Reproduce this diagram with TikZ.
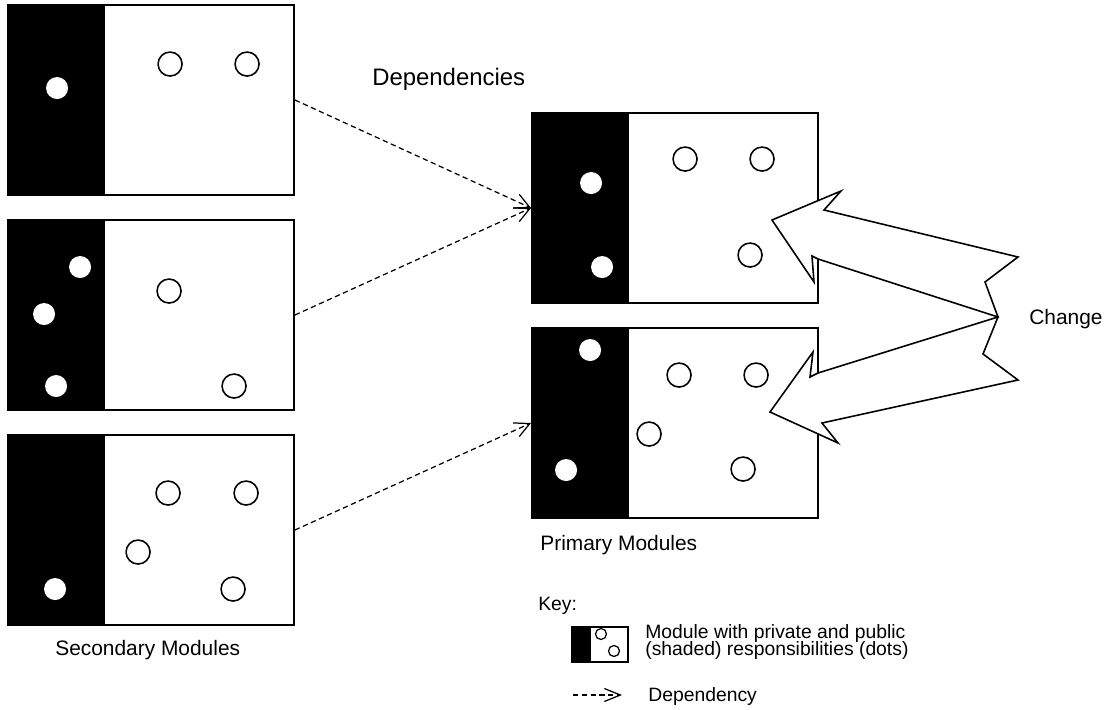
\documentclass[tikz,border=0pt]{standalone}
\usepackage{fontspec}
\setmainfont{Liberation Sans}
\usepackage{tikz}
\usetikzlibrary{arrows.meta}

\begin{document}
\begin{tikzpicture}[
        x=0.02cm, y=-0.02cm,
        module/.style={draw, line width=1.1pt, rectangle, minimum width=5.72cm, minimum height=3.8cm, inner sep=0pt,
            path picture={\fill (path picture bounding box.north west) rectangle ([xshift=1.93cm]path picture bounding box.south west);}},
        privdot/.style={fill=white},
        pubdot/.style={draw, line width=0.9pt},
        dep/.style={line width=0.7pt, dash pattern=on 3pt off 2pt, -{Straight Barb[length=0.3cm,width=0.3cm]}},
        change/.style={draw, fill=white, line width=0.9pt, line join=miter},
        lab/.style={font=\fontsize{11.9}{14}\selectfont, inner sep=0pt, anchor=base west},
        keylab/.style={font=\fontsize{11}{13}\selectfont, inner sep=0pt, anchor=base west}
    ]
        \useasboundingbox (0,0) rectangle (1107,710);

        % Secondary modules (left column)
        \node[module] (sec1) at (151,100) {};
        \node[module] (sec2) at (151,315) {};
        \node[module] (sec3) at (151,530) {};

        % Primary modules
        \node[module] (priA) at (675,208) {};
        \node[module] (priB) at (675,423) {};

        % --- dots of sec1 ---
        \begin{scope}[shift={(sec1.north west)}]
            \fill[privdot] (50,84) circle[radius=11];
            \draw[pubdot] (163,60) circle[radius=12];
            \draw[pubdot] (240,60) circle[radius=12];
        \end{scope}

        % --- dots of sec2 ---
        \begin{scope}[shift={(sec2.north west)}]
            \fill[privdot] (73,48) circle[radius=11];
            \fill[privdot] (37,95) circle[radius=11];
            \fill[privdot] (49,167) circle[radius=11];
            \draw[pubdot] (162,72) circle[radius=12];
            \draw[pubdot] (227,167) circle[radius=12];
        \end{scope}

        % --- dots of sec3 ---
        \begin{scope}[shift={(sec3.north west)}]
            \fill[privdot] (48,155) circle[radius=11];
            \draw[pubdot] (161,59) circle[radius=12];
            \draw[pubdot] (239,59) circle[radius=12];
            \draw[pubdot] (131,118) circle[radius=12];
            \draw[pubdot] (226,155) circle[radius=12];
        \end{scope}

        % --- dots of priA ---
        \begin{scope}[shift={(priA.north west)}]
            \fill[privdot] (60,71) circle[radius=11];
            \fill[privdot] (71,155) circle[radius=11];
            \draw[pubdot] (154,47) circle[radius=12];
            \draw[pubdot] (231,47) circle[radius=12];
            \draw[pubdot] (219,143) circle[radius=12];
        \end{scope}

        % --- dots of priB ---
        \begin{scope}[shift={(priB.north west)}]
            \fill[privdot] (59,23) circle[radius=11];
            \fill[privdot] (35,143) circle[radius=11];
            \draw[pubdot] (148,48) circle[radius=12];
            \draw[pubdot] (225,48) circle[radius=12];
            \draw[pubdot] (118,107) circle[radius=12];
            \draw[pubdot] (212,142) circle[radius=12];
        \end{scope}

        % Dependencies
        \draw[dep] (sec1.east) -- (priA.west);
        \draw[dep] (sec2.east) -- (priA.west);
        \draw[dep] (sec3.east) -- (priB.west);

        % Change arrows
        \draw[change] (772,220) -- (841,191) -- (824,210) -- (1018,257) -- (985,282) -- (998,317)
            -- (818,259) -- (812,256) -- (814,282) -- cycle;
        \draw[change] (998,317) -- (818,373) -- (810,377) -- (813,352) -- (770,412) -- (838,443)
            -- (822,423) -- (1018,380) -- (983,354) -- cycle;

        % Labels
        \node[lab, font=\fontsize{13.6}{16}\selectfont] (deplab) at (372,85) {Dependencies};
        \node[lab] (chglab) at (1029,324) {Change};
        \node[lab] (seclab) at (55,655) {Secondary Modules};
        \node[lab] (prilab) at (540,550) {Primary Modules};

        % Key
        \node[keylab] (keylab) at (538,610) {Key:};
        \node[draw, line width=0.8pt, rectangle, minimum width=1.12cm, minimum height=0.7cm, inner sep=0pt,
            path picture={\fill (path picture bounding box.north west) rectangle ([xshift=0.38cm]path picture bounding box.south west);}]
            (keybox) at (600,644.5) {};
        \draw[line width=0.7pt] (601,634) circle[radius=5.5];
        \draw[line width=0.7pt] (614,651) circle[radius=5.5];
        \node[keylab] (keytxta) at (645,638) {Module with private and public};
        \node[keylab] (keytxtb) at (645,655) {(shaded) responsibilities (dots)};
        \coordinate (keya) at (573,695);
        \coordinate (keyb) at (622,695);
        \draw[dep, -{Straight Barb[length=0.32cm,width=0.26cm]}] (keya) -- (keyb);
        \node[keylab] (keydep) at (648,701) {Dependency};
    \end{tikzpicture}
\end{document}
